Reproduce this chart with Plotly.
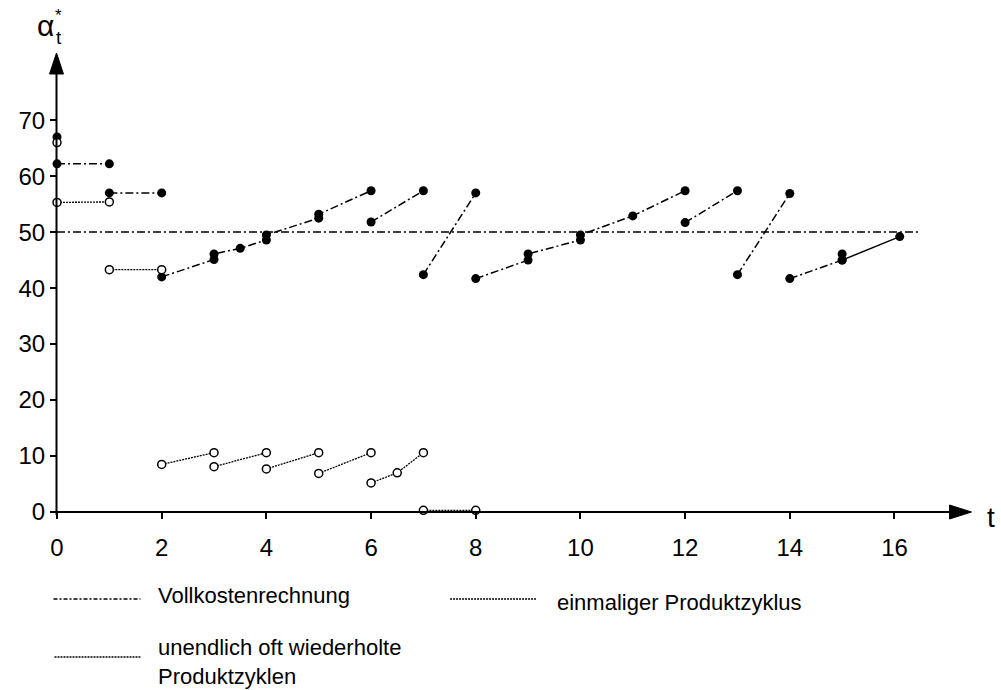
import plotly.graph_objects as go

# ---------------- data ----------------
# Vollkostenrechnung: dash-dot segments with filled points
vk_x = [0, 1, None, 1, 2, None,
        2, 3, 3, 3.5, 4, 4, 5, 5, 6, None,
        6, 7, None, 7, 8, None,
        8, 9, 9, 10, 10, 11, 12, None,
        12, 13, None, 13, 14, None,
        14, 15, 15]
vk_y = [62.2, 62.2, None, 57.0, 57.0, None,
        42.0, 45.1, 46.1, 47.1, 48.6, 49.5, 52.5, 53.2, 57.4, None,
        51.8, 57.4, None, 42.4, 57.0, None,
        41.7, 45.0, 46.1, 48.6, 49.5, 52.9, 57.4, None,
        51.7, 57.4, None, 42.4, 56.9, None,
        41.7, 45.0, 46.1]
vk_single_x = [0]
vk_single_y = [67.0]

# reference level of the full-cost calculation
ref_x = [0, 16.5]
ref_y = [50, 50]

# einmaliger Produktzyklus (fine line, filled points)
ez_x = [15, 16.1]
ez_y = [45.0, 49.2]

# unendlich oft wiederholte Produktzyklen (fine dotted line, open points)
uz_x = [0, 1, None, 1, 2, None,
        2, 3, None, 3, 4, None, 4, 5, None, 5, 6, None,
        6, 6.5, 7, None, 7, 8]
uz_y = [55.3, 55.4, None, 43.3, 43.3, None,
        8.5, 10.6, None, 8.1, 10.6, None, 7.7, 10.6, None, 6.9, 10.6, None,
        5.2, 7.0, 10.6, None, 0.3, 0.3]
uz_single_x = [0]
uz_single_y = [66.0]

x_ticks = [0, 2, 4, 6, 8, 10, 12, 14, 16]
y_ticks = [0, 10, 20, 30, 40, 50, 60, 70]

legend_labels = ["Vollkostenrechnung", "einmaliger Produktzyklus",
                 "unendlich oft wiederholte<br>Produktzyklen"]

# ---------------- layout geometry ----------------
W, H = 1001, 690
L, R, T, B = 56.5, 27.5, 53, 178
XMAX, YMAX = 17.5, 82.0
PW, PH = W - L - R, H - T - B


def px(xp):
    return (xp - L) / PW


def py(yp):
    return (H - B - yp) / PH


DASHDOT = "8px,3px,2px,3px"
FINE = "2px,1px"
FONT = "Liberation Sans, Arial, sans-serif"

fig = go.Figure()

fig.add_trace(go.Scatter(x=ref_x, y=ref_y, mode="lines",
                         line=dict(color="black", width=1.5, dash=DASHDOT),
                         hoverinfo="skip", showlegend=False))
fig.add_trace(go.Scatter(x=vk_x, y=vk_y, mode="lines+markers",
                         line=dict(color="black", width=1.5, dash=DASHDOT),
                         marker=dict(color="black", size=9),
                         showlegend=False, cliponaxis=False))
fig.add_trace(go.Scatter(x=vk_single_x, y=vk_single_y, mode="markers",
                         marker=dict(color="black", size=9),
                         showlegend=False, cliponaxis=False))
fig.add_trace(go.Scatter(x=ez_x, y=ez_y, mode="lines+markers",
                         line=dict(color="black", width=1.5),
                         marker=dict(color="black", size=9),
                         showlegend=False, cliponaxis=False))
fig.add_trace(go.Scatter(x=uz_x, y=uz_y, mode="lines+markers",
                         line=dict(color="black", width=1.3, dash=FINE),
                         marker=dict(color="white", size=8, symbol="circle",
                                     line=dict(color="black", width=1.5)),
                         showlegend=False, cliponaxis=False))
fig.add_trace(go.Scatter(x=uz_single_x, y=uz_single_y, mode="markers",
                         marker=dict(color="white", size=8,
                                     line=dict(color="black", width=1.5)),
                         showlegend=False, cliponaxis=False))

shapes = []
# axes with arrow heads (pixel -> paper coords)
shapes.append(dict(type="line", xref="paper", yref="paper",
                   x0=px(56), y0=py(512), x1=px(952), y1=py(512),
                   line=dict(color="black", width=2)))
shapes.append(dict(type="path", xref="paper", yref="paper",
                   path=f"M {px(950)},{py(505)} L {px(972)},{py(512)} L {px(950)},{py(519)} Z",
                   fillcolor="black", line=dict(color="black", width=1)))
shapes.append(dict(type="line", xref="paper", yref="paper",
                   x0=px(56), y0=py(515), x1=px(56), y1=py(72),
                   line=dict(color="black", width=2)))
shapes.append(dict(type="path", xref="paper", yref="paper",
                   path=f"M {px(49)},{py(74)} L {px(56)},{py(53)} L {px(63)},{py(74)} Z",
                   fillcolor="black", line=dict(color="black", width=1)))

# legend lines
shapes.append(dict(type="line", xref="paper", yref="paper",
                   x0=px(53), y0=py(599), x1=px(140), y1=py(599),
                   line=dict(color="black", width=1.5, dash="4px,2px,2px,2px")))
shapes.append(dict(type="line", xref="paper", yref="paper",
                   x0=px(450), y0=py(599), x1=px(536), y1=py(599),
                   line=dict(color="black", width=1.3, dash=FINE)))
shapes.append(dict(type="line", xref="paper", yref="paper",
                   x0=px(54), y0=py(657), x1=px(140), y1=py(657),
                   line=dict(color="black", width=1.3, dash=FINE)))


def ann(text, x, y, size, xanchor="center", align="center"):
    return dict(text=text, x=px(x), y=py(y), xref="paper", yref="paper",
                xanchor=xanchor, yanchor="middle", align=align, showarrow=False,
                font=dict(family=FONT, size=size, color="black"))


annotations = [
    ann("α", 45, 25, 30),
    ann("t", 59, 38, 19),
    ann("*", 58, 16, 17),
    ann("t", 992, 517, 28),
    ann(legend_labels[0], 156, 595, 22, xanchor="left"),
    ann(legend_labels[1], 555, 602, 22, xanchor="left"),
    ann(legend_labels[2], 156, 662, 22, xanchor="left", align="left"),
]

fig.update_layout(
    width=W, height=H,
    margin=dict(l=L, r=R, t=T, b=B, pad=0),
    plot_bgcolor="white", paper_bgcolor="white",
    shapes=shapes, annotations=annotations,
    xaxis=dict(range=[0, XMAX], tickvals=x_ticks, ticktext=[str(v) for v in x_ticks],
               ticks="outside", ticklen=6, tickwidth=1.5, tickcolor="black",
               ticklabelstandoff=8,
               showgrid=False, zeroline=False, showline=False,
               tickfont=dict(family=FONT, size=24, color="black")),
    yaxis=dict(range=[0, YMAX], tickvals=y_ticks, ticktext=[str(v) for v in y_ticks],
               ticks="outside", ticklen=6, tickwidth=1.5, tickcolor="black",
               showgrid=False, zeroline=False, showline=False,
               tickfont=dict(family=FONT, size=24, color="black")),
)

fig.write_html("out.html")
